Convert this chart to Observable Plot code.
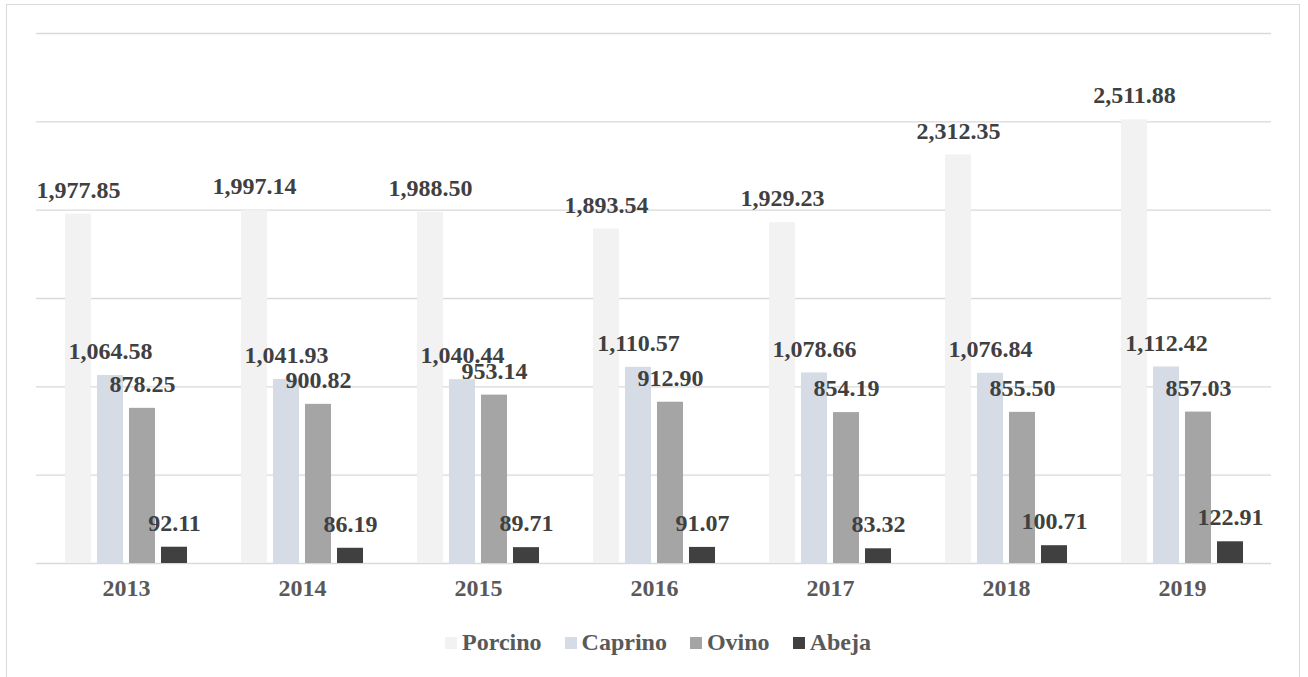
<!DOCTYPE html>
<html><head><meta charset="utf-8">
<script src="https://cdn.jsdelivr.net/npm/d3@7"></script>
<script src="https://cdn.jsdelivr.net/npm/@observablehq/plot@0.6"></script>
<style>
html,body{margin:0;padding:0;background:#fff;width:1308px;height:677px;overflow:hidden;}
#frame{position:absolute;left:6px;top:4px;width:1294px;height:700px;border:1px solid #d9d9d9;box-sizing:border-box;}
#grid,#chart{position:absolute;left:0;top:0;}
#legend{position:absolute;left:0;top:629px;width:1308px;display:flex;justify-content:center;align-items:center;gap:23px;
 font-family:"Liberation Serif","Times New Roman",serif;font-weight:bold;font-size:24px;color:#595959;padding-left:8px;box-sizing:border-box;}
#legend .item{display:flex;align-items:center;gap:5px;}
#legend .sw{width:12px;height:12px;display:inline-block;}
</style></head>
<body>
<div id="frame"></div>
<div id="grid"></div>
<div id="chart"></div>
<div id="legend"></div>
<script>
const years = ["2013","2014","2015","2016","2017","2018","2019"];
const series = ["Porcino","Caprino","Ovino","Abeja"];
const colors = ["#f2f2f2","#d6dce5","#a5a5a5","#404040"];
const porcino = [1977.85,1997.14,1988.50,1893.54,1929.23,2312.35,2511.88];
const caprino = [1064.58,1041.93,1040.44,1110.57,1078.66,1076.84,1112.42];
const ovino = [878.25,900.82,953.14,912.90,854.19,855.50,857.03];
const abeja = [92.11,86.19,89.71,91.07,83.32,100.71,122.91];
const yTicks = [0,500,1000,1500,2000,2500,3000];

const valuesBySeries = [porcino, caprino, ovino, abeja];
const data = [];
years.forEach((y, i) => series.forEach((s, j) => data.push({year: y, series: s, value: valuesBySeries[j][i]})));
const fmt = d3.format(",.2f");
const font = '"Liberation Serif","Times New Roman",serif';
const dims = {width: 1308, height: 600, marginLeft: 36, marginRight: 37, marginTop: 33, marginBottom: 37};

const grid = Plot.plot({
  ...dims,
  style: {background: "transparent"},
  y: {domain: [0, 3000], axis: null},
  marks: [Plot.ruleY(yTicks, {stroke: "#d9d9d9", strokeWidth: 1.3})]
});
document.getElementById("grid").appendChild(grid);

const chart = Plot.plot({
  ...dims,
  style: {fontFamily: font, background: "transparent"},
  fx: {domain: years, paddingInner: 0.274, paddingOuter: 0.137, label: null, axis: null},
  x: {domain: series, paddingInner: 0.2, paddingOuter: 0.1, axis: null},
  y: {domain: [0, 3000], axis: null},
  color: {domain: series, range: colors},
  marks: [
    Plot.barY(data, {fx: "year", x: "series", y: "value", fill: "series"}),
    Plot.text(data, {fx: "year", x: "series", y: "value", text: d => fmt(d.value), dy: -24, lineAnchor: "middle",
      fontSize: 24, fontWeight: "bold", fill: "#404040"}),
    Plot.axisFx({anchor: "bottom", tickSize: 0, tickPadding: 15, fontSize: 24, fontWeight: "bold", color: "#595959", label: null})
  ]
});
document.getElementById("chart").appendChild(chart);

const legend = document.getElementById("legend");
series.forEach((s, i) => {
  const it = document.createElement("div"); it.className = "item";
  const sw = document.createElement("span"); sw.className = "sw"; sw.style.background = colors[i];
  const tx = document.createElement("span"); tx.textContent = s;
  it.appendChild(sw); it.appendChild(tx); legend.appendChild(it);
});
</script>
</body></html>
